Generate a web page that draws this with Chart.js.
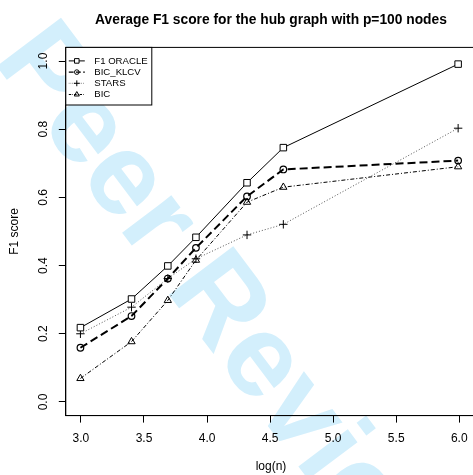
<!DOCTYPE html>
<html lang="en">
<head>
    <meta charset="UTF-8">
    <title>Average F1 score for the hub graph</title>
    <script src="https://cdn.jsdelivr.net/npm/chart.js"></script>
    <style>
        body {
            margin: 0;
            background-color: #ffffff;
            overflow: hidden;
        }
        canvas {
            display: block;
        }
    </style>
</head>
<body>
    <canvas id="grafico" width="480" height="475"></canvas>

    <script>
        // log(n) values and the average F1 score of each method
        const logN = [2.996, 3.401, 3.689, 3.912, 4.317, 4.605, 5.991];
        const f1Oracle = [0.218, 0.302, 0.399, 0.483, 0.643, 0.746, 0.991];
        const bicKlcv = [0.159, 0.252, 0.362, 0.452, 0.603, 0.682, 0.708];
        const stars = [0.200, 0.278, 0.362, 0.420, 0.490, 0.521, 0.803];
        const bic = [0.069, 0.177, 0.298, 0.416, 0.586, 0.630, 0.690];

        const seriesNames = ["F1 ORACLE", "BIC_KLCV", "STARS", "BIC"];
        const xTicks = [3.0, 3.5, 4.0, 4.5, 5.0, 5.5, 6.0];
        const yTicks = [0.0, 0.2, 0.4, 0.6, 0.8, 1.0];

        const titulo = "Average F1 score for the hub graph with p=100 nodes";
        const etiquetaX = "log(n)";
        const etiquetaY = "F1 score";
        const marcaAgua = "Peer Review";

        function puntos(valores) {
            return logN.map((x, i) => ({ x: x, y: valores[i] }));
        }

        const fuente = "'Liberation Sans', Arial, sans-serif";

        const estiloR = {
            id: "estiloR",
            beforeDraw(chart) {
                const ctx = chart.ctx;
                ctx.save();
                ctx.fillStyle = "#ffffff";
                ctx.fillRect(0, 0, chart.width, chart.height);
                // watermark
                ctx.translate(-8, 60);
                ctx.rotate(53 * Math.PI / 180);
                ctx.font = "bold 117px " + fuente;
                ctx.fillStyle = "#d3effc";
                ctx.textBaseline = "alphabetic";
                ctx.textAlign = "left";
                ctx.fillText(marcaAgua, 0, 0);
                ctx.restore();
            },
            afterDraw(chart) {
                const ctx = chart.ctx;
                const area = chart.chartArea;
                const sy = chart.scales.y;
                ctx.save();

                // box
                ctx.strokeStyle = "#000000";
                ctx.lineWidth = 1;
                ctx.strokeRect(area.left, area.top, area.right - area.left, area.bottom - area.top);

                // title
                ctx.fillStyle = "#000000";
                ctx.textAlign = "center";
                ctx.textBaseline = "middle";
                ctx.font = "bold 13.8px " + fuente;
                ctx.fillText(titulo, 271, 20);

                // axis titles
                ctx.font = "12px " + fuente;
                ctx.fillText(etiquetaX, 271, 467);
                ctx.save();
                ctx.translate(15, (area.top + area.bottom) / 2);
                ctx.rotate(-Math.PI / 2);
                ctx.fillText(etiquetaY, 0, 0);
                ctx.restore();

                // y tick labels, rotated as in R
                yTicks.forEach(v => {
                    const py = sy.getPixelForValue(v);
                    ctx.save();
                    ctx.translate(44, py);
                    ctx.rotate(-Math.PI / 2);
                    ctx.fillText(v.toFixed(1), 0, 0);
                    ctx.restore();
                });

                // legend
                const lx = area.left, ly = area.top;
                ctx.fillStyle = "#ffffff";
                ctx.fillRect(lx, ly, 86, 57.6);
                ctx.strokeStyle = "#000000";
                ctx.lineWidth = 1;
                ctx.strokeRect(lx, ly, 86, 57.6);
                chart.data.datasets.forEach((ds, i) => {
                    const y = ly + 13.5 + i * 11.2;
                    ctx.save();
                    ctx.strokeStyle = ds.borderColor;
                    ctx.lineWidth = Math.min(ds.borderWidth, 1.2);
                    ctx.setLineDash(ds.borderDash.map(d => d * 0.6));
                    ctx.beginPath();
                    ctx.moveTo(lx + 3, y);
                    ctx.lineTo(lx + 19, y);
                    ctx.stroke();
                    ctx.restore();
                    ctx.save();
                    ctx.strokeStyle = "#000000";
                    ctx.fillStyle = ds.pointBackgroundColor;
                    ctx.lineWidth = 1;
                    Chart.helpers.drawPoint(ctx, {
                        pointStyle: ds.pointStyle,
                        radius: ds.pointRadius * 0.7,
                        borderWidth: 1,
                        rotation: 0
                    }, lx + 11, y);
                    ctx.restore();
                    ctx.fillStyle = "#000000";
                    ctx.textAlign = "left";
                    ctx.font = "9.6px " + fuente;
                    ctx.fillText(ds.label, lx + 28.5, y);
                });
                ctx.restore();
            }
        };

        const ctx = document.getElementById("grafico").getContext("2d");
        new Chart(ctx, {
            type: "scatter",
            data: {
                datasets: [
                    {
                        label: seriesNames[0],
                        data: puntos(f1Oracle),
                        showLine: true,
                        borderColor: "#000000",
                        borderWidth: 1,
                        borderDash: [],
                        pointStyle: "rect",
                        pointRadius: 4.6,
                        pointBorderColor: "#000000",
                        pointBackgroundColor: "#ffffff",
                        pointBorderWidth: 1
                    },
                    {
                        label: seriesNames[1],
                        data: puntos(bicKlcv),
                        showLine: true,
                        borderColor: "#000000",
                        borderWidth: 2,
                        borderDash: [8, 4],
                        pointStyle: "circle",
                        pointRadius: 3.3,
                        pointBorderColor: "#000000",
                        pointBackgroundColor: "rgba(255,255,255,0)",
                        pointBorderWidth: 1.2
                    },
                    {
                        label: seriesNames[2],
                        data: puntos(stars),
                        showLine: true,
                        borderColor: "#555555",
                        borderWidth: 1,
                        borderDash: [1, 2],
                        pointStyle: "cross",
                        pointRadius: 4.2,
                        pointBorderColor: "#000000",
                        pointBackgroundColor: "rgba(255,255,255,0)",
                        pointBorderWidth: 1
                    },
                    {
                        label: seriesNames[3],
                        data: puntos(bic),
                        showLine: true,
                        borderColor: "#000000",
                        borderWidth: 1,
                        borderDash: [4, 2, 1, 2],
                        pointStyle: "triangle",
                        pointRadius: 4.2,
                        pointBorderColor: "#000000",
                        pointBackgroundColor: "rgba(255,255,255,0)",
                        pointBorderWidth: 1
                    }
                ]
            },
            options: {
                responsive: false,
                animation: false,
                events: [],
                layout: { padding: { top: 47.4, right: 4, left: 0, bottom: 0 } },
                plugins: {
                    legend: { display: false },
                    title: { display: false },
                    tooltip: { enabled: false }
                },
                scales: {
                    x: {
                        type: "linear",
                        min: 2.88,
                        max: 6.12,
                        afterBuildTicks: s => { s.ticks = xTicks.map(v => ({ value: v })); },
                        afterFit: s => { s.height = 59.4; },
                        grid: { drawOnChartArea: false, color: "#000000", tickLength: 7, tickWidth: 1 },
                        border: { display: true, color: "#000000", width: 1 },
                        ticks: {
                            color: "#000000",
                            font: { size: 12, family: fuente },
                            padding: 9,
                            maxRotation: 0,
                            callback: v => v.toFixed(1)
                        }
                    },
                    y: {
                        type: "linear",
                        min: -0.04,
                        max: 1.04,
                        afterBuildTicks: s => { s.ticks = yTicks.map(v => ({ value: v })); },
                        afterFit: s => { s.width = 65.8; },
                        grid: { drawOnChartArea: false, color: "#000000", tickLength: 7, tickWidth: 1 },
                        border: { display: true, color: "#000000", width: 1 },
                        ticks: { display: false }
                    }
                }
            },
            plugins: [estiloR]
        });
    </script>
</body>
</html>
